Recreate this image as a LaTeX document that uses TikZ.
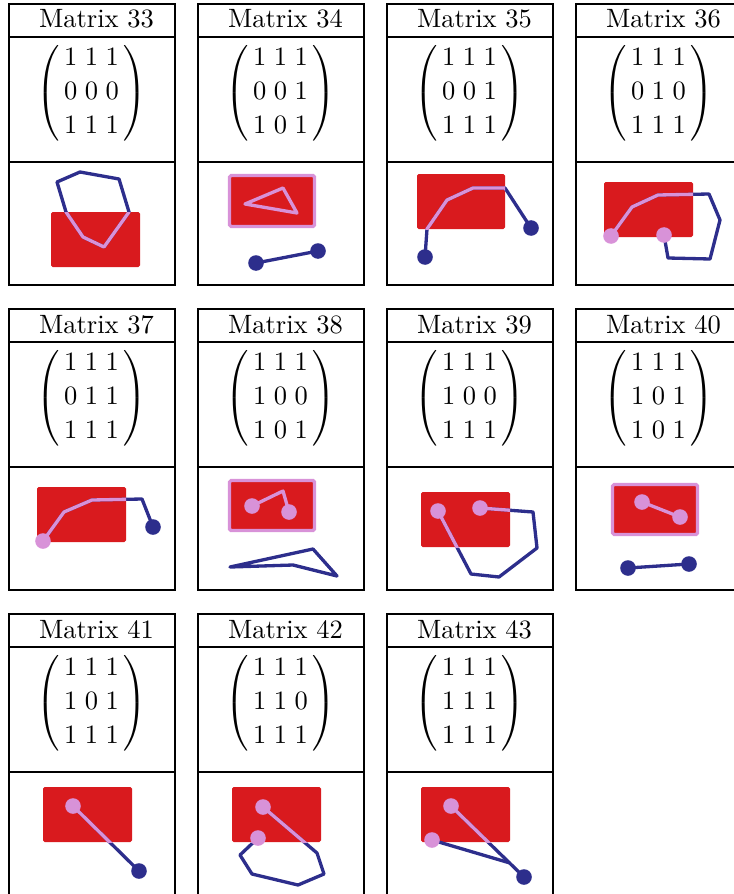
\documentclass[tikz,border=0pt]{standalone}
\usepackage{amsmath}
\usepackage{tikz}
\definecolor{redfill}{RGB}{217,26,30}
\definecolor{plum}{RGB}{216,146,216}
\definecolor{navy}{RGB}{45,46,140}
\begin{document}
\begin{tikzpicture}[x=0.3774pt, y=-0.3774pt,
    frame/.style={line width=1pt},
    title/.style={anchor=base, inner sep=0pt},
    mat/.style={inner sep=0pt},
    box/.style={fill=redfill, rounded corners=0.6pt},
    hbox/.style={box, draw=plum, line width=1.25pt},
    wire/.style={draw=navy, line width=1.25pt, line join=round},
    pwire/.style={wire, draw=plum},
    bdot/.style={fill=navy},
    pdot/.style={fill=plum}]
    \useasboundingbox (0,0) rectangle (733,894);
    \setlength{\arraycolsep}{1.4pt}
    \renewcommand{\arraystretch}{1.07}
    \delimiterfactor=920 \delimitershortfall=3pt
    % panels: frame, title, matrix
    \foreach \n/\px/\py/\ra/\rb/\rc in {
        33/9/4/1&1&1/0&0&0/1&1&1, 34/198/4/1&1&1/0&0&1/1&0&1,
        35/387/4/1&1&1/0&0&1/1&1&1, 36/576/4/1&1&1/0&1&0/1&1&1,
        37/9/309/1&1&1/0&1&1/1&1&1, 38/198/309/1&1&1/1&0&0/1&0&1,
        39/387/309/1&1&1/1&0&0/1&1&1, 40/576/309/1&1&1/1&0&1/1&0&1,
        41/9/614/1&1&1/1&0&1/1&1&1, 42/198/614/1&1&1/1&1&0/1&1&1,
        43/387/614/1&1&1/1&1&1/1&1&1} {
        \draw[frame] (\px,\py) rectangle ++(166,281);
        \draw[frame] (\px,\py+33) -- ++(166,0);
        \draw[frame] (\px,\py+158) -- ++(166,0);
        \node[title] (t\n) at (\px+87.5,\py+24) {Matrix \n};
        \node[mat] (m\n) at (\px+82.5,\py+89) {$\left(\,\begin{matrix}\ra\\\rb\\\rc\end{matrix}\,\right)$};
    }

    % 33
    \fill[box] (51,212) rectangle (140,267);
    \draw[wire] (57,182) -- (80,172) -- (119,179) -- (129,212) -- (104,247) -- (83,237) -- (66,212) -- cycle;
    \begin{scope}
        \clip (51,212) rectangle (140,267);
        \draw[pwire] (57,182) -- (80,172) -- (119,179) -- (129,212) -- (104,247) -- (83,237) -- (66,212) -- cycle;
    \end{scope}
    % 34
    \draw[hbox] (229.5,175.5) rectangle (314.5,226.5);
    \draw[pwire] (245,204) -- (283,188) -- (297,213) -- cycle;
    \draw[wire] (256,263) -- (318,251);
    \fill[bdot] (256,263) circle[radius=7.8];
    \fill[bdot] (318,251) circle[radius=7.8];
    % 35
    \fill[box] (417,174) rectangle (505,229);
    \draw[wire] (425,257) -- (427,229) -- (447,200) -- (473,188) -- (505,188) -- (531,228);
    \begin{scope}
        \clip (417,174) rectangle (505,229);
        \draw[pwire] (425,257) -- (427,229) -- (447,200) -- (473,188) -- (505,188) -- (531,228);
    \end{scope}
    \fill[bdot] (425,257) circle[radius=7.8];
    \fill[bdot] (531,228) circle[radius=7.8];
    % 36
    \fill[box] (604,182) rectangle (693,237);
    \draw[wire] (611,236) -- (632,207) -- (658,195) -- (709,194) -- (720,220) -- (710,259) -- (668,258) -- (664,235);
    \begin{scope}
        \clip (604,182) rectangle (693,237);
        \draw[pwire] (611,236) -- (632,207) -- (658,195) -- (709,194) -- (720,220) -- (710,259) -- (668,258) -- (664,235);
    \end{scope}
    \fill[pdot] (611,236) circle[radius=7.8];
    \fill[pdot] (664,235) circle[radius=7.8];

    % 37
    \fill[box] (37,487) rectangle (126,542);
    \draw[wire] (43,541) -- (64,512) -- (92,500) -- (142,499) -- (153,527);
    \begin{scope}
        \clip (37,487) rectangle (126,542);
        \draw[pwire] (43,541) -- (64,512) -- (92,500) -- (142,499) -- (153,527);
    \end{scope}
    \fill[pdot] (43,541) circle[radius=7.8];
    \fill[bdot] (153,527) circle[radius=7.8];
    % 38
    \draw[hbox] (229.5,480.5) rectangle (314.5,530.5);
    \draw[pwire] (252,506) -- (283,491) -- (289,512);
    \fill[pdot] (252,506) circle[radius=7.8];
    \fill[pdot] (289,512) circle[radius=7.8];
    \draw[wire] (230,567) -- (313,549) -- (337,576) -- (293,565) -- cycle;
    % 39
    \fill[box] (421,492) rectangle (510,547);
    \draw[wire] (438,511) -- (471,574) -- (499,577) -- (537,548) -- (533,512) -- (480,508);
    \begin{scope}
        \clip (421,492) rectangle (510,547);
        \draw[pwire] (438,511) -- (471,574) -- (499,577) -- (537,548) -- (533,512) -- (480,508);
    \end{scope}
    \fill[pdot] (438,511) circle[radius=7.8];
    \fill[pdot] (480,508) circle[radius=7.8];
    % 40
    \draw[hbox] (612.5,484.5) rectangle (697.5,534.5);
    \draw[pwire] (642,502) -- (680,517);
    \fill[pdot] (642,502) circle[radius=7.8];
    \fill[pdot] (680,517) circle[radius=7.8];
    \draw[wire] (628,568) -- (689,564);
    \fill[bdot] (628,568) circle[radius=7.8];
    \fill[bdot] (689,564) circle[radius=7.8];

    % 41
    \fill[box] (43,787) rectangle (132,842);
    \draw[wire] (73,806) -- (139,871);
    \begin{scope}
        \clip (43,787) rectangle (132,842);
        \draw[pwire] (73,806) -- (139,871);
    \end{scope}
    \fill[pdot] (73,806) circle[radius=7.8];
    \fill[bdot] (139,871) circle[radius=7.8];
    % 42
    \fill[box] (232,787) rectangle (321,842);
    \draw[wire] (263,807) -- (317,853) -- (324,874) -- (298,885) -- (252,874) -- (240,855) -- (258,838);
    \begin{scope}
        \clip (232,787) rectangle (321,842);
        \draw[pwire] (263,807) -- (317,853) -- (324,874) -- (298,885) -- (252,874) -- (240,855) -- (258,838);
    \end{scope}
    \fill[pdot] (263,807) circle[radius=7.8];
    \fill[pdot] (258,838) circle[radius=7.8];
    % 43
    \fill[box] (421,787) rectangle (510,842);
    \draw[wire] (451,806) -- (524,877);
    \draw[wire] (432,840) -- (510,863);
    \begin{scope}
        \clip (421,787) rectangle (510,842);
        \draw[pwire] (451,806) -- (524,877);
    \end{scope}
    \fill[pdot] (451,806) circle[radius=7.8];
    \fill[pdot] (432,840) circle[radius=7.8];
    \fill[bdot] (524,877) circle[radius=7.8];
\end{tikzpicture}
\end{document}
